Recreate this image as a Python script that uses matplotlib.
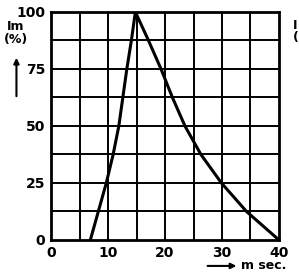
import matplotlib
matplotlib.use("Agg")
import matplotlib.pyplot as plt
from matplotlib.patches import FancyArrowPatch

# ---------- Data ----------
rise_t = [6.9, 8.3, 9.7, 10.9, 11.9, 12.6, 13.3, 14.1, 14.8]
rise_im = [0, 12.5, 25, 37.5, 50, 62.5, 75, 87.5, 100]

fall_t = [14.8, 17.1, 19.3, 21.3, 23.5, 26.3, 29.9, 34.3, 40.0]
fall_im = [100, 87.5, 75, 62.5, 50, 37.5, 25, 12.5, 0]

x_ticks = [0, 10, 20, 30, 40]
y_ticks = [0, 25, 50, 75, 100]
x_grid = [5, 10, 15, 20, 25, 30, 35]
y_grid = [12.5, 25, 37.5, 50, 62.5, 75, 87.5]

t = rise_t + fall_t[1:]
im = rise_im + fall_im[1:]

fig = plt.figure(figsize=(2.99, 2.75), dpi=100)
ax = fig.add_axes([0.1706, 0.1273, 0.7625, 0.8291])

for gx in x_grid:
    ax.axvline(gx, color="black", lw=1.4)
for gy in y_grid:
    ax.axhline(gy, color="black", lw=1.4)

ax.plot(t, im, color="black", lw=2.2, solid_joinstyle="round")

ax.set_xlim(0, 40)
ax.set_ylim(0, 100)
ax.set_xticks(x_ticks)
ax.set_yticks(y_ticks)
ax.tick_params(length=0, pad=4, labelsize=10)
for lab in ax.get_xticklabels() + ax.get_yticklabels():
    lab.set_fontweight("bold")
for s in ax.spines.values():
    s.set_linewidth(2)

# axis captions with arrows
fig.text(0.052, 0.88, "Im\n(%)", ha="center", va="center",
         fontsize=9, fontweight="bold", linespacing=0.9)
fig.add_artist(FancyArrowPatch(
    (0.055, 0.64), (0.055, 0.80), transform=fig.transFigure,
    arrowstyle="-|>", mutation_scale=8, color="black", lw=1.5))

fig.add_artist(FancyArrowPatch(
    (0.685, 0.033), (0.80, 0.033), transform=fig.transFigure,
    arrowstyle="-|>", mutation_scale=8, color="black", lw=1.5))
fig.text(0.805, 0.033, "m sec.", ha="left", va="center",
         fontsize=9, fontweight="bold")

# edge of the neighbouring chart's caption
fig.text(0.978, 0.885, "I\n(", ha="left", va="center",
         fontsize=9, fontweight="bold", linespacing=0.9)

fig.savefig("out.png", dpi=100)
